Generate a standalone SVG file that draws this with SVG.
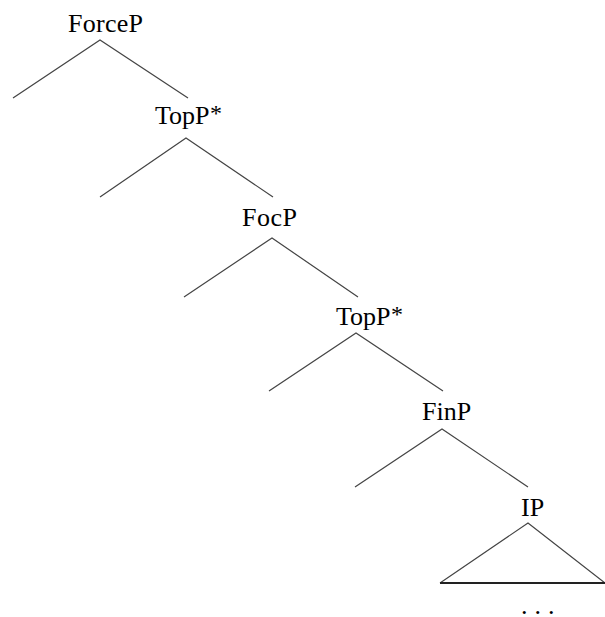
<svg xmlns="http://www.w3.org/2000/svg" width="605" height="617" viewBox="0 0 605 617">
<style>
.lbl{font-family:"Liberation Serif","Times New Roman",serif;font-size:26px;fill:#000}
.sup{font-size:24px}
.br{stroke:#444;stroke-width:1.2;fill:none}
.base{stroke:#222;stroke-width:2;fill:none}
</style>
<rect width="605" height="617" fill="#fff"/>
<g id="connectors">
<polyline class="br" points="13,98 100,40 188,98"/>
<polyline class="br" points="100,197 186,138 273,197"/>
<polyline class="br" points="184,297 272,238 358,297"/>
<polyline class="br" points="269,391 356,333 443,391"/>
<polyline class="br" points="355,487 442,429 528,487"/>
<polyline class="br" points="440,583 528,523 605,583"/>
<line class="base" x1="440" y1="583" x2="605" y2="583"/>
</g>
<g id="forceP"><text class="lbl" x="68" y="32" textLength="75">ForceP</text></g>
<g id="topP1"><text class="lbl" x="155" y="124">TopP<tspan class="sup" x="210" dy="-3">*</tspan></text></g>
<g id="focP"><text class="lbl" x="242" y="226" textLength="55">FocP</text></g>
<g id="topP2"><text class="lbl" x="336" y="325">TopP<tspan class="sup" x="391" dy="-3">*</tspan></text></g>
<g id="finP"><text class="lbl" x="422" y="420">FinP</text></g>
<g id="iP"><text class="lbl" x="521" y="516">IP</text></g>
<g id="dots"><text class="lbl" x="521" y="614" letter-spacing="7">...</text></g>
</svg>
